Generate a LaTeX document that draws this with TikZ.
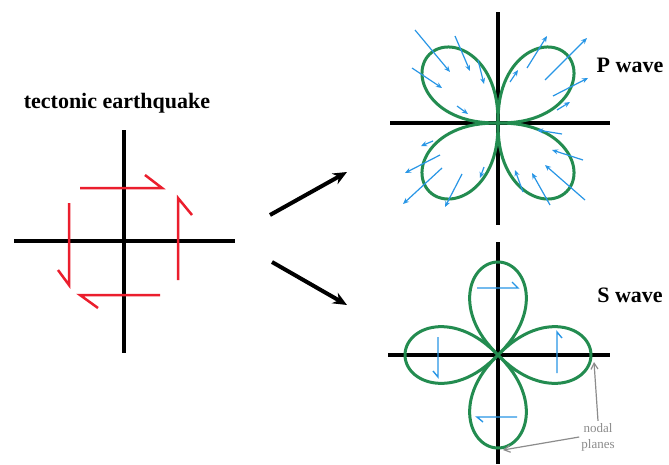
\documentclass[tikz,border=0pt]{standalone}
\usepackage{fontspec}
\setmainfont{Liberation Serif}
\usetikzlibrary{arrows.meta}
\definecolor{lobegreen}{RGB}{35,140,80}
\definecolor{rayblue}{RGB}{40,150,230}
\definecolor{slipred}{RGB}{235,30,45}
\definecolor{notegray}{RGB}{140,140,140}

\begin{document}
\begin{tikzpicture}[x=1pt,y=-1pt,>=Stealth,
    axis/.style={line width=3.5pt},
    lobe/.style={draw=lobegreen,line width=3pt,line join=round},
    slip/.style={slipred,line width=2.5pt},
    ray/.style={rayblue,line width=1.2pt,-{Stealth[length=6pt,width=5pt]}},
    shear/.style={rayblue,line width=1.4pt},
    bigarrow/.style={line width=4pt,-{Stealth[length=14pt,width=12pt]}},
    title/.style={font=\fontsize{22}{24}\selectfont\bfseries,anchor=base},
    note/.style={notegray,line width=1.2pt,-{Straight Barb[length=6pt,width=7pt]}}]
  \fill[white] (0,0) rectangle (669,464);
  \useasboundingbox (0,0) rectangle (669,464);

  % tectonic earthquake: fault planes and slip
  \node[title] (quake) at (117,108) {tectonic earthquake};
  \draw[axis] (14,241) -- (235,241);
  \draw[axis] (124,130) -- (124,353);
  \draw[slip] (80,188) -- (162,188) -- (145,175);
  \draw[slip] (178,280) -- (178,198) -- (192,215);
  \draw[slip] (160,295) -- (80,295) -- (98,308);
  \draw[slip] (69,203) -- (69,285) -- (58,270);

  % arrows to the radiation patterns
  \coordinate (up0) at (270,215);
  \coordinate (up1) at (347,172);
  \coordinate (dn0) at (272,262);
  \coordinate (dn1) at (347,305);
  \draw[bigarrow] (up0) -- (up1);
  \draw[bigarrow] (dn0) -- (dn1);

  % P wave
  \begin{scope}[shift={(498,123)}]
    \draw[axis] (-108,0) -- (112,0);
    \draw[axis] (0,-111) -- (0,102);
    \draw[lobe] plot[domain=0:360,samples=241] (\x:{97*abs(sin(2*\x))^0.75});
  \end{scope}
  \node[title] (pwave) at (630,72) {P wave};
  \foreach \a/\b/\c/\d in {415/30/450/72, 455/36/470/71, 412/68/442/88,
      478/60/484/84, 457/106/468/114,
      527/68/547/36, 545/80/587/38, 553/96/588/78, 557/110/570/102, 510/82/518/70,
      440/155/405/173, 442/168/403/204, 462/174/445/207, 433/141/421/146, 484/167/480/178,
      562/134/537/130, 583/160/552/150, 585/200/545/165, 550/205/532/173, 523/192/515/170}
    \draw[ray] (\a,\b) -- (\c,\d);

  % S wave
  \begin{scope}[shift={(498,355)}]
    \draw[axis] (-110,0) -- (112,0);
    \draw[axis] (0,-113) -- (0,109);
    \draw[lobe] plot[domain=0:360,samples=241] (\x:{93*abs(cos(2*\x))^0.75});
  \end{scope}
  \node[title] (swave) at (630,302) {S wave};
  \draw[shear] (477,288) -- (518,288) -- (512,282);
  \draw[shear] (557,373) -- (557,332) -- (562,338);
  \draw[shear] (438,337) -- (438,377) -- (433,371);
  \draw[shear] (517,417) -- (477,417) -- (483,422);

  % nodal planes
  \node[notegray,font=\fontsize{13}{16}\selectfont,align=center,inner sep=2pt]
    (nodal) at (598,437) {nodal\\planes};
  \coordinate (hplane) at (594,362);
  \coordinate (vplane) at (503,450);
  \draw[note] (nodal.north) -- (hplane);
  \draw[note] (nodal.west) -- (vplane);
\end{tikzpicture}
\end{document}
